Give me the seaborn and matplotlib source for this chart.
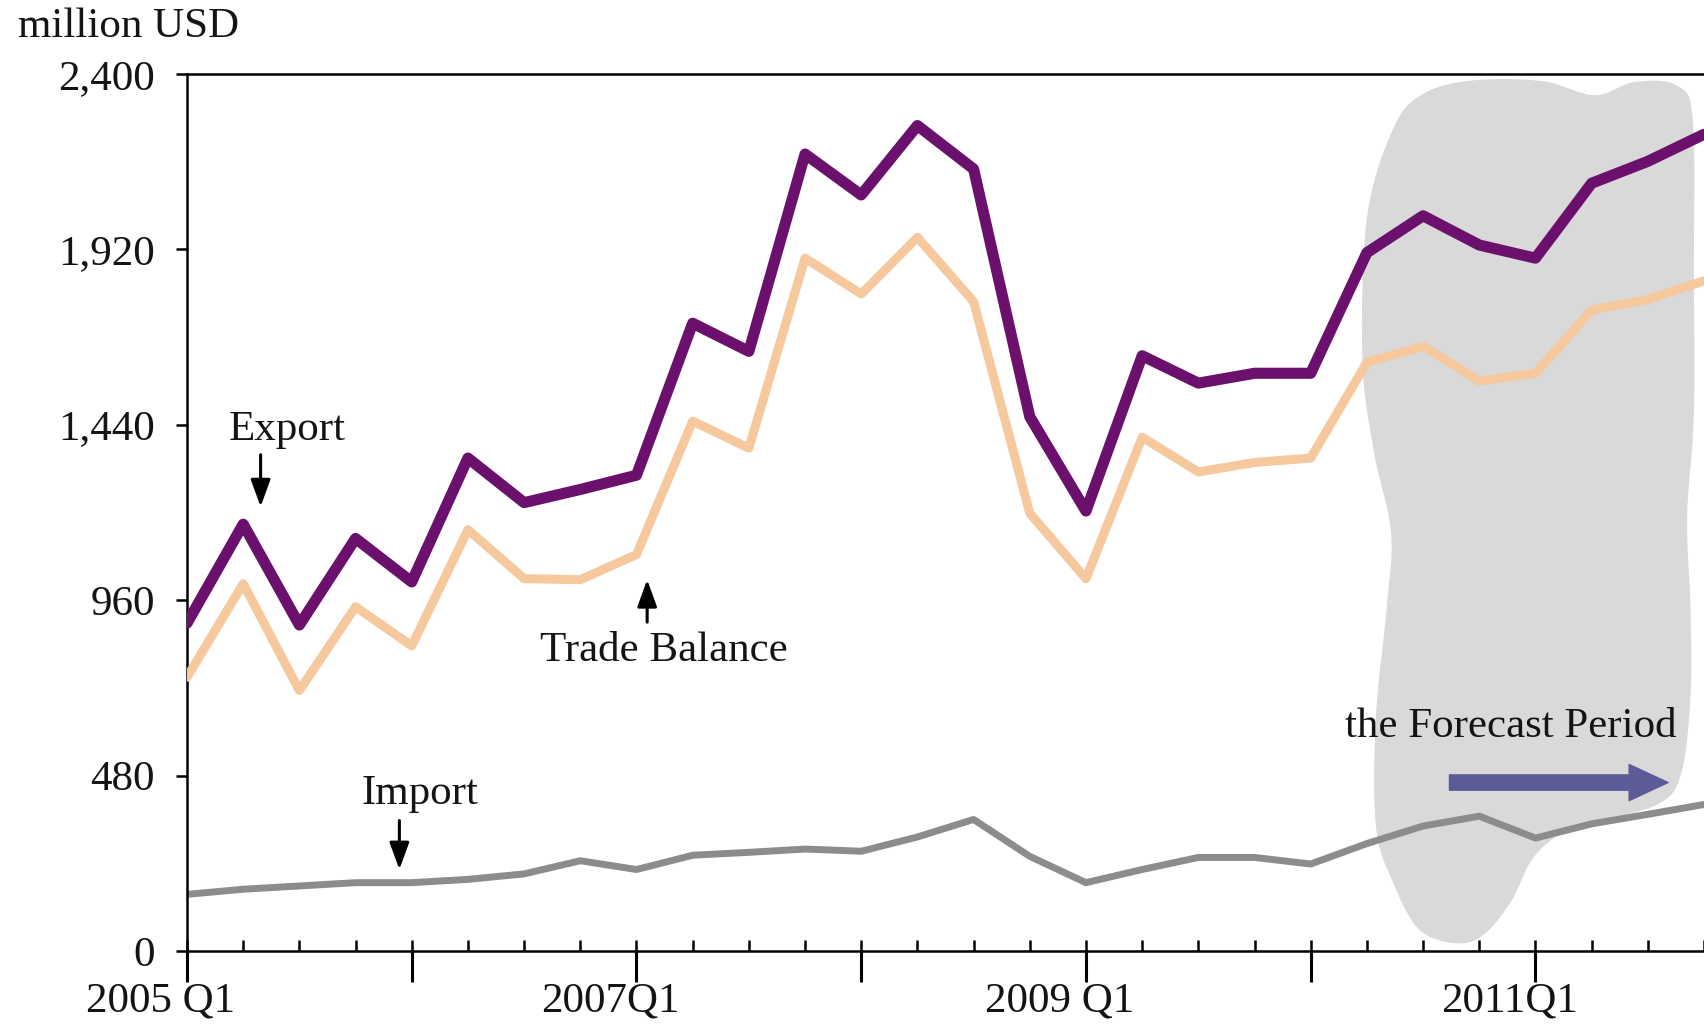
import numpy as np
import pandas as pd
import matplotlib
matplotlib.use("Agg")
import matplotlib.pyplot as plt
import seaborn as sns
from matplotlib.patches import Polygon
from matplotlib.transforms import ScaledTranslation

# Quarterly series, 2005 Q1 .. 2011 Q4 (million USD)
quarters = [f"{y} Q{q}" for y in range(2005, 2012) for q in range(1, 5)]
export = [897, 1168, 892, 1129, 1010, 1349, 1227, 1263, 1302, 1718, 1641, 2181,
          2069, 2259, 2140, 1462, 1204, 1629, 1554, 1581, 1581, 1911, 2012, 1932,
          1896, 2101, 2161, 2235]
trade_balance = [749, 1005, 713, 942, 835, 1153, 1019, 1016, 1085, 1450, 1376, 1896,
                 1798, 1953, 1777, 1198, 1019, 1406, 1311, 1337, 1349, 1611, 1655, 1560,
                 1581, 1754, 1783, 1834]
imports = [155, 169, 178, 187, 187, 196, 211, 247, 223, 262, 270, 279,
           273, 312, 360, 259, 187, 223, 256, 256, 238, 294, 342, 369,
           309, 348, 374, 401]

y_ticks = [0, 480, 960, 1440, 1920, 2400]
y_tick_labels = ["0", "480", "960", "1,440", "1,920", "2,400"]
x_major_labels = ["2005 Q1", "", "2007Q1", "", "2009 Q1", "", "2011Q1"]

# Outline of the shaded forecast area (quarter index, million USD)
forecast_x = [21.45, 21.93, 22.79, 24.10, 25.05, 25.76, 26.51, 26.80, 26.82, 26.82,
              26.70, 26.76, 26.76, 26.59, 26.17, 25.01, 24.43, 23.95, 23.56, 23.08,
              22.60, 21.93, 21.45, 21.16, 21.16, 21.35, 21.43, 21.12, 20.92, 21.00]
forecast_y = [2244, 2339, 2381, 2381, 2342, 2378, 2369, 2274, 1858, 1471,
              1186, 936, 698, 484, 401, 351, 318, 253, 134, 45,
              21, 59, 193, 342, 639, 936, 1144, 1370, 1620, 2006]

df = pd.DataFrame({"q": np.arange(len(quarters)), "export": export,
                   "trade_balance": trade_balance, "imports": imports})

sns.set_theme(style="white")
plt.rcParams["font.family"] = ["Liberation Serif", "DejaVu Serif"]
FS = 31
TXT = "#141414"

fig = plt.figure(figsize=(17.04, 10.24), dpi=100)
ax = fig.add_axes([187 / 1704, 73 / 1024, 1 - 187 / 1704, (951 - 74) / 1024])


def smooth_closed(xs, ys, n=20):
    """Closed Catmull-Rom spline through the given outline points."""
    p = np.column_stack([xs, ys]).astype(float)
    m = len(p)
    out = []
    for i in range(m):
        p0, p1, p2, p3 = p[i - 1], p[i], p[(i + 1) % m], p[(i + 2) % m]
        for t in np.linspace(0, 1, n, endpoint=False):
            t2, t3 = t * t, t * t * t
            out.append(0.5 * ((2 * p1) + (-p0 + p2) * t
                              + (2 * p0 - 5 * p1 + 4 * p2 - p3) * t2
                              + (-p0 + 3 * p1 - 3 * p2 + p3) * t3))
    return np.array(out)


ax.add_patch(Polygon(smooth_closed(forecast_x, forecast_y), closed=True,
                     facecolor="#d9d9d9", edgecolor="none", zorder=0))

sns.lineplot(data=df, x="q", y="imports", ax=ax, color="#8c8c8c", lw=5, zorder=2)
sns.lineplot(data=df, x="q", y="trade_balance", ax=ax, color="#f6c89e", lw=6.5, zorder=3)
sns.lineplot(data=df, x="q", y="export", ax=ax, color="#6c106e", lw=8, zorder=4)

ax.set_xlim(0, 26.89)
ax.set_ylim(0, 2400)
ax.set_xlabel("")
ax.set_ylabel("")

# Axes frame
for side in ["left", "top", "bottom"]:
    ax.spines[side].set_visible(True)
    ax.spines[side].set_color("black")
    ax.spines[side].set_linewidth(1.8)
ax.spines["right"].set_visible(False)

# X axis: yearly major ticks, quarterly minor ticks
ax.xaxis.remove_overlapping_locs = False
ax.set_xticks(range(0, len(quarters), 4))
ax.set_xticklabels(x_major_labels, fontsize=FS, color=TXT)
ax.set_xticks(range(len(quarters)), minor=True)
ax.tick_params(axis="x", which="major", direction="out", length=22, width=2.2,
               pad=0, color="black", bottom=True)
ax.tick_params(axis="x", which="minor", direction="in", length=8, width=1.8,
               color="black", bottom=True)
shift = ScaledTranslation(-26 / 100, 0, fig.dpi_scale_trans)
for lab in ax.get_xticklabels():
    lab.set_transform(lab.get_transform() + shift)

# Y axis
ax.set_yticks(y_ticks)
ax.set_yticklabels(y_tick_labels, fontsize=FS, color=TXT)
ax.tick_params(axis="y", direction="out", length=8, width=1.8, pad=15,
               color="black", left=True)

fig.text(18 / 1704, 1 - 27 / 1024, "million USD", fontsize=FS, ha="left",
         va="center", color=TXT)

# Series annotations
black_arrow = dict(arrowstyle="-|>,head_length=0.55,head_width=0.2",
                   color="black", lw=2.2, mutation_scale=30, shrinkA=0, shrinkB=0)
ax.text(1.79, 1427, "Export", fontsize=FS, ha="center", va="center", color=TXT)
ax.annotate("", xy=(1.31, 1216), xytext=(1.31, 1358), arrowprops=black_arrow)

ax.text(8.48, 823, "Trade Balance", fontsize=FS, ha="center", va="center", color=TXT)
ax.annotate("", xy=(8.19, 1016), xytext=(8.19, 900), arrowprops=black_arrow)

ax.text(4.14, 431, "Import", fontsize=FS, ha="center", va="center", color=TXT)
ax.annotate("", xy=(3.78, 223), xytext=(3.78, 357), arrowprops=black_arrow)

ax.text(23.56, 615, "the Forecast Period", fontsize=FS, ha="center", va="center",
        color=TXT, zorder=5)
ax.annotate("", xy=(26.36, 461), xytext=(22.47, 461),
            arrowprops=dict(arrowstyle="simple,head_length=1.4,head_width=1.3,tail_width=0.55",
                            color="#5d5a98", mutation_scale=20, shrinkA=0, shrinkB=0),
            zorder=5)

fig.savefig("out.png", dpi=100, facecolor="white")
